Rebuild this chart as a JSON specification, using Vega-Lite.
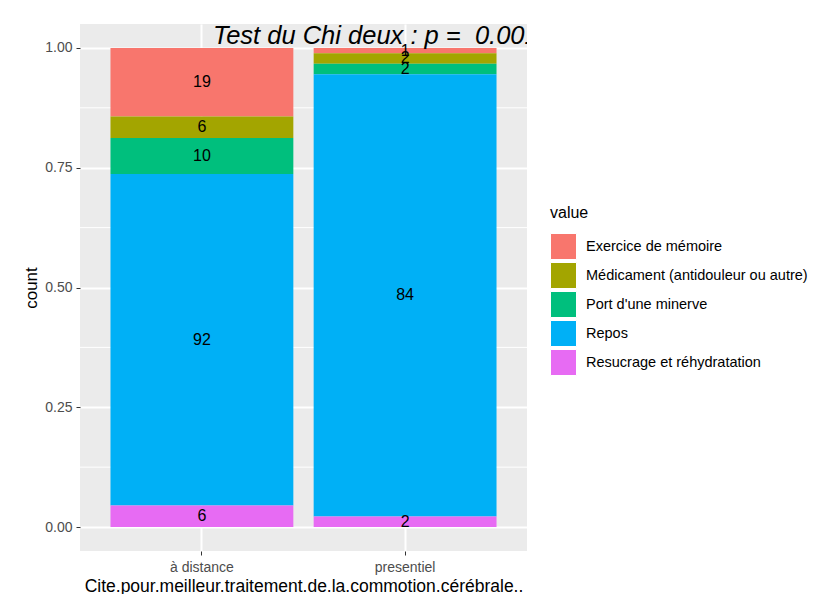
{
  "$schema": "https://vega.github.io/schema/vega-lite/v6.json",
  "width": 447,
  "height": 527,
  "autosize": {"type": "none"},
  "padding": {"left": 80, "top": 24, "right": 298, "bottom": 43},
  "background": "white",
  "config": {
    "view": {"fill": "#EBEBEB", "stroke": null},
    "font": "Liberation Sans"
  },
  "datasets": {
    "counts": [
      {"group": "à distance", "value": "Exercice de mémoire", "count": 19},
      {"group": "à distance", "value": "Médicament (antidouleur ou autre)", "count": 6},
      {"group": "à distance", "value": "Port d'une minerve", "count": 10},
      {"group": "à distance", "value": "Repos", "count": 92},
      {"group": "à distance", "value": "Resucrage et réhydratation", "count": 6},
      {"group": "presentiel", "value": "Exercice de mémoire", "count": 1},
      {"group": "presentiel", "value": "Médicament (antidouleur ou autre)", "count": 2},
      {"group": "presentiel", "value": "Port d'une minerve", "count": 2},
      {"group": "presentiel", "value": "Repos", "count": 84},
      {"group": "presentiel", "value": "Resucrage et réhydratation", "count": 2}
    ],
    "minor": [{"v": 0.125}, {"v": 0.375}, {"v": 0.625}, {"v": 0.875}],
    "note": [{"group": "à distance", "label": "Test du Chi deux : p = \u00a00.001"}]
  },
  "layer": [
    {
      "data": {"name": "minor"},
      "mark": {"type": "rule", "color": "white", "strokeWidth": 1},
      "encoding": {
        "y": {"field": "v", "type": "quantitative",
              "scale": {"domain": [-0.05, 1.05], "nice": false, "zero": false},
              "axis": {
                "title": "count", "values": [0, 0.25, 0.5, 0.75, 1], "format": ".2f",
                "grid": true, "gridColor": "white", "gridWidth": 2,
                "domain": false, "tickColor": "#333333", "tickSize": 4, "tickWidth": 1,
                "labelColor": "#4D4D4D", "labelFontSize": 14, "labelPadding": 4,
                "titleFontSize": 17, "titleFontWeight": "normal", "titleColor": "black", "titlePadding": 4
              }}
      }
    },
    {
      "data": {"name": "counts"},
      "transform": [
        {"stack": "count", "groupby": ["group"], "sort": [{"field": "value", "order": "descending"}], "offset": "normalize", "as": ["y0", "y1"]}
      ],
      "mark": {"type": "bar"},
      "encoding": {
        "x": {
          "field": "group", "type": "nominal",
          "scale": {"domain": ["à distance", "presentiel"], "paddingInner": 0.1, "paddingOuter": 0.15},
          "axis": {
            "title": "Cite.pour.meilleur.traitement.de.la.commotion.cérébrale..",
            "labelAngle": 0, "bandPosition": 0.5,
            "grid": true, "gridColor": "white", "gridWidth": 2,
            "domain": false, "tickColor": "#333333", "tickSize": 4, "tickWidth": 1,
            "labelColor": "#4D4D4D", "labelFontSize": 14, "labelPadding": 5,
            "titleFontSize": 17.5, "titleFontWeight": "normal", "titleColor": "black", "titlePadding": 3
          }
        },
        "y": {
          "field": "y0", "type": "quantitative",
          "scale": {"domain": [-0.05, 1.05], "nice": false, "zero": false},
          "axis": {
            "title": "count", "values": [0, 0.25, 0.5, 0.75, 1], "format": ".2f",
            "grid": true, "gridColor": "white", "gridWidth": 2,
            "domain": false, "tickColor": "#333333", "tickSize": 4, "tickWidth": 1,
            "labelColor": "#4D4D4D", "labelFontSize": 14, "labelPadding": 4,
            "titleFontSize": 17, "titleFontWeight": "normal", "titleColor": "black", "titlePadding": 4
          }
        },
        "y2": {"field": "y1"},
        "color": {
          "field": "value", "type": "nominal",
          "scale": {
            "domain": ["Exercice de mémoire", "Médicament (antidouleur ou autre)", "Port d'une minerve", "Repos", "Resucrage et réhydratation"],
            "range": ["#F8766D", "#A3A500", "#00BF7D", "#00B0F6", "#E76BF3"]
          },
          "legend": {
            "title": "value", "orient": "none", "legendX": 470, "legendY": 181,
            "titleFontSize": 16, "titleFontWeight": "normal", "titleColor": "black", "titlePadding": 12,
            "labelFontSize": 14.5, "labelColor": "black", "labelOffset": 9, "labelLimit": 400,
            "symbolType": "square", "symbolSize": 676, "symbolStrokeColor": "white", "symbolStrokeWidth": 1,
            "symbolOpacity": 1, "rowPadding": -5.5
          }
        }
      }
    },
    {
      "data": {"name": "counts"},
      "transform": [
        {"stack": "count", "groupby": ["group"], "sort": [{"field": "value", "order": "descending"}], "offset": "normalize", "as": ["y0", "y1"]},
        {"calculate": "(datum.y0 + datum.y1) / 2", "as": "mid"}
      ],
      "mark": {"type": "text", "fontSize": 16, "color": "black", "baseline": "middle"},
      "encoding": {
        "x": {"field": "group", "type": "nominal"},
        "y": {"field": "mid", "type": "quantitative",
              "axis": {
                "title": "count", "values": [0, 0.25, 0.5, 0.75, 1], "format": ".2f",
                "grid": true, "gridColor": "white", "gridWidth": 2,
                "domain": false, "tickColor": "#333333", "tickSize": 4, "tickWidth": 1,
                "labelColor": "#4D4D4D", "labelFontSize": 14, "labelPadding": 4,
                "titleFontSize": 17, "titleFontWeight": "normal", "titleColor": "black", "titlePadding": 4
              }},
        "text": {"field": "count", "type": "quantitative"}
      }
    },
    {
      "data": {"name": "note"},
      "mark": {"type": "text", "fontSize": 25.5, "fontStyle": "italic", "color": "black", "align": "left", "baseline": "middle", "dx": 11, "clip": true},
      "encoding": {
        "x": {"field": "group", "type": "nominal"},
        "y": {"datum": 1.025, "type": "quantitative",
              "axis": {
                "title": "count", "values": [0, 0.25, 0.5, 0.75, 1], "format": ".2f",
                "grid": true, "gridColor": "white", "gridWidth": 2,
                "domain": false, "tickColor": "#333333", "tickSize": 4, "tickWidth": 1,
                "labelColor": "#4D4D4D", "labelFontSize": 14, "labelPadding": 4,
                "titleFontSize": 17, "titleFontWeight": "normal", "titleColor": "black", "titlePadding": 4
              }},
        "text": {"field": "label"}
      }
    }
  ]
}
